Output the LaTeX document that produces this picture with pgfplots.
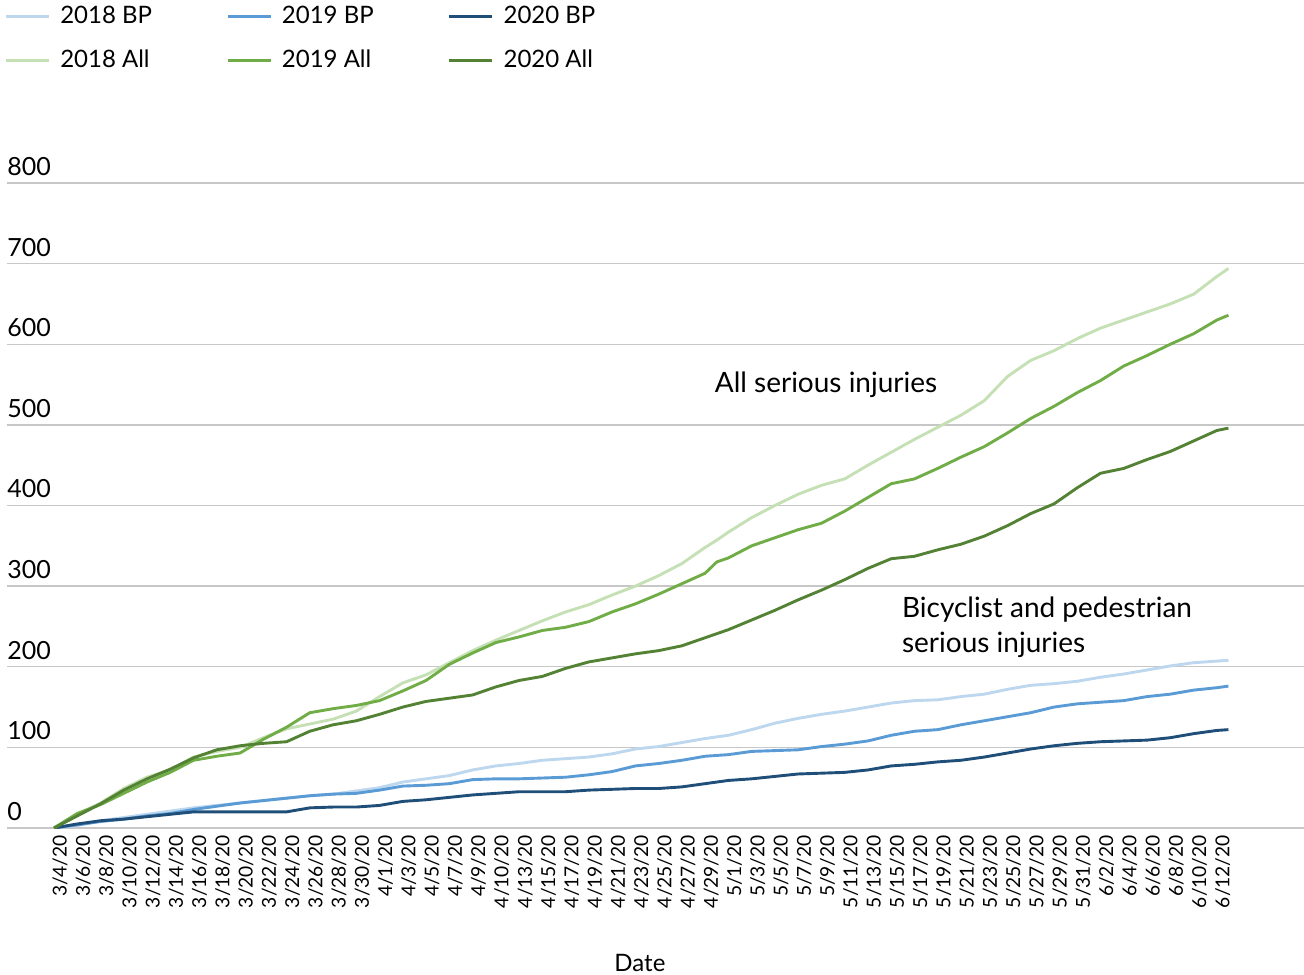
\documentclass[border=0pt]{standalone}
\usepackage{fontspec}
\setmainfont{Lato}
\usepackage{pgfplots}
\usepackage{pgfplotstable}
\pgfplotsset{compat=1.18}

\definecolor{bpA}{HTML}{BDD7EE}
\definecolor{bpB}{HTML}{5B9BD5}
\definecolor{bpC}{HTML}{1F4E79}
\definecolor{allA}{HTML}{C5E0B4}
\definecolor{allB}{HTML}{70AD47}
\definecolor{allC}{HTML}{548235}

% day index from 3/4/20, cumulative serious injuries
\pgfplotstableread{
i   bp18 bp19 bp20 all18 all19 all20
0   0    0    0    0     0     0
2   3    4    5    17    18    15
4   9    8    9    31    29    30
6   13   11   11   49    43    47
8   17   15   14   63    57    61
10  21   18   17   72    69    73
12  25   23   20   88    84    87
14  28   27   20   95    89    97
16  31   31   20   100   93    102
18  34   34   20   112   110   105
20  37   37   20   123   125   107
22  40   40   25   129   143   120
24  42   42   26   135   148   128
26  46   43   26   145   152   133
28  50   47   28   163   158   141
30  57   52   33   180   170   150
32  61   53   35   190   183   157
34  65   55   38   205   203   161
36  72   60   41   220   217   165
38  77   61   43   233   230   175
40  80   61   45   245   237   183
42  84   62   45   257   245   188
44  86   63   45   268   249   198
46  88   66   47   277   256   206
48  92   70   48   289   268   211
50  98   77   49   300   278   216
52  101  80   49   313   290   220
54  106  84   51   328   303   226
56  111  89   55   348   316   236
57  113  90   57   357   330   241
58  115  91   59   367   335   246
60  122  95   61   385   350   258
62  130  96   64   400   360   270
64  136  97   67   414   370   283
66  141  101  68   425   378   295
68  145  104  69   433   393   308
70  150  108  72   450   410   322
72  155  115  77   466   427   334
74  158  120  79   482   433   337
76  159  122  82   497   446   345
78  163  128  84   512   460   352
80  166  133  88   530   473   362
82  172  138  93   560   490   375
84  177  143  98   580   508   390
86  179  150  102  592   523   402
88  182  154  105  607   540   422
90  187  156  107  620   555   440
92  191  158  108  630   573   446
94  196  163  109  640   586   457
96  201  166  112  650   600   467
98  205  171  117  662   613   480
100 207  174  121  684   630   493
101 208  176  122  694   636   496
}\injuries

\begin{document}
\begin{tikzpicture}
\begin{axis}[
  at={(3.5pt,73pt)}, anchor=south west,
  scale only axis,
  width=648.5pt, height=322.5pt,
  xmin=-4.04, xmax=107.5,
  ymin=0, ymax=800,
  axis line style={draw=none},
  major tick length=0pt,
  ytick={0,100,...,800},
  ymajorgrids,
  grid style={draw=black!22, line width=0.7pt},
  /pgf/number format/assume math mode=true,
  yticklabel style={font=\fontsize{12.5}{14}\selectfont, anchor=south west, inner sep=0pt, yshift=3.5pt},
  xtick={0,2,...,100},
  xticklabels={3/4/20,3/6/20,3/8/20,3/10/20,3/12/20,3/14/20,3/16/20,3/18/20,3/20/20,3/22/20,3/24/20,3/26/20,3/28/20,3/30/20,4/1/20,4/3/20,4/5/20,4/7/20,4/9/20,4/10/20,4/13/20,4/15/20,4/17/20,4/19/20,4/21/20,4/23/20,4/25/20,4/27/20,4/29/20,5/1/20,5/3/20,5/5/20,5/7/20,5/9/20,5/11/20,5/13/20,5/15/20,5/17/20,5/19/20,5/21/20,5/23/20,5/25/20,5/27/20,5/29/20,5/31/20,6/2/20,6/4/20,6/6/20,6/8/20,6/10/20,6/12/20},
  xticklabel style={font=\fontsize{9.6}{11}\selectfont, rotate=90, anchor=east, yshift=-3pt},
  xlabel={Date},
  xlabel style={at={(axis description cs:0.488,0)}, anchor=base, yshift=-71.5pt, font=\fontsize{12}{14}\selectfont},
  legend columns=3,
  legend style={at={(rel axis cs:0,1)}, anchor=north west, xshift=-1.5pt, yshift=90.5pt,
    draw=none, fill=none, inner sep=0pt, row sep=7.5pt,
    font=\fontsize{12}{14}\selectfont,
    /tikz/every odd column/.append style={column sep=3pt},
    /tikz/every even column/.append style={column sep=35pt}},
  legend cell align=left,
  legend image code/.code={\draw[#1] (0pt,0pt) -- (21.5pt,0pt);},
  every axis plot/.append style={line width=1.45pt, line join=round},
]
\addplot[color=bpA] table[x=i, y=bp18] {\injuries};
\addplot[color=bpB] table[x=i, y=bp19] {\injuries};
\addplot[color=bpC] table[x=i, y=bp20] {\injuries};
\addplot[color=allA] table[x=i, y=all18] {\injuries};
\addplot[color=allB] table[x=i, y=all19] {\injuries};
\addplot[color=allC] table[x=i, y=all20] {\injuries};
\legend{2018 BP, 2019 BP, 2020 BP, 2018 All, 2019 All, 2020 All}
\node[anchor=west, inner sep=0pt, font=\fontsize{14}{17}\selectfont] at (axis cs:56.8,550) {All serious injuries};
\node[anchor=west, inner sep=0pt, align=left, font=\fontsize{14}{17.5}\selectfont] at (axis cs:72.9,249) {Bicyclist and pedestrian\\serious injuries};
\end{axis}
\pgfresetboundingbox
\useasboundingbox (0,0) rectangle (652pt,487pt);
\end{tikzpicture}
\end{document}
